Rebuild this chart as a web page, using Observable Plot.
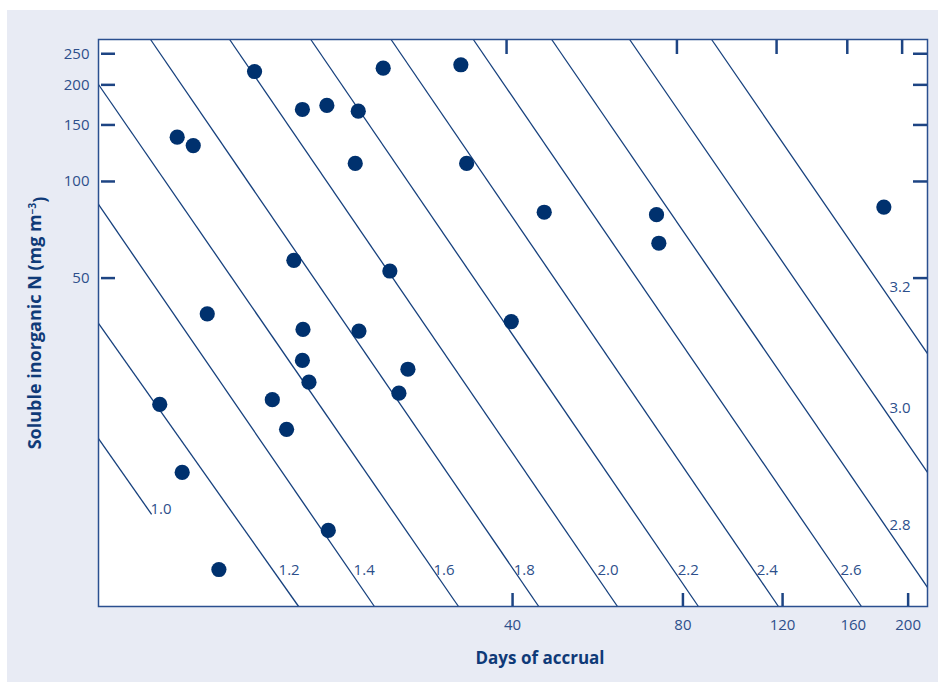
<!DOCTYPE html>
<html><head><meta charset="utf-8">
<script src="https://cdn.jsdelivr.net/npm/d3@7"></script>
<script src="https://cdn.jsdelivr.net/npm/@observablehq/plot@0.6"></script>
<style>
html,body{margin:0;padding:0;background:#fff;}
#wrap{position:relative;width:938px;height:682px;overflow:hidden;}
#panel{position:absolute;left:7px;top:10px;right:0;bottom:0;background:#e8ebf4;}
#chart{position:absolute;left:0;top:0;}
</style></head><body>
<div id="wrap"><div id="panel"></div><div id="chart"></div></div>
<script>
// Observations: days of accrual vs soluble inorganic N (mg m-3)
const days = [14.0, 10.22, 10.91, 17.01, 18.79, 21.35, 23.63, 32.41, 21.09, 33.18,
  45.5, 71.85, 72.53, 181.2, 16.43, 24.28, 11.55, 17.05, 21.41, 39.79,
  17.01, 17.47, 26.13, 25.19, 15.05, 9.52, 15.95, 10.43, 18.9, 12.11];
const nitrogen = [220.1, 137.4, 129.4, 167.6, 172.5, 165.6, 225.4, 231.0, 113.8, 113.8,
  80.2, 78.8, 64.2, 83.2, 56.8, 52.6, 38.7, 34.6, 34.2, 36.6,
  27.7, 23.7, 26.0, 21.9, 20.9, 20.2, 16.9, 12.4, 8.18, 6.18];

// Isolines (labelled values) with their end points in data units
const isoLabels = ["1.0", "1.2", "1.4", "1.6", "1.8", "2.0", "2.2", "2.4", "2.6", "2.8", "3.0", "3.2"];
const isoStartDays = [7.42, 7.42, 7.42, 7.42, 9.17, 12.65, 17.6, 24.4, 34.1, 46.9, 64.4, 89.9];
const isoStartN = [15.8, 36.1, 84.8, 200.5, 276.9, 276.9, 276.9, 276.9, 276.9, 276.9, 276.9, 276.9];
const isoEndDays = [9.21, 16.75, 22.8, 32.1, 44.5, 61.3, 85.2, 118, 165.4, 216.4, 216.4, 216.4];
const isoEndN = [9.18, 4.74, 4.74, 4.74, 4.74, 4.74, 4.74, 4.74, 4.74, 5.44, 12.4, 29.1];
const isoLabelDays = [9.17, 15.44, 20.95, 29.0, 40.2, 56.5, 78.3, 108.0, 151.9, 185.4, 185.4, 185.4];
const isoLabelN = [9.51, 6.14, 6.14, 6.14, 6.14, 6.14, 6.14, 6.14, 6.14, 8.48, 19.6, 46.8];

const xDomain = [7.42, 216.4];
const yDomain = [4.74, 276.9];
const xLabelTicks = [40, 80, 120, 160, 200];
const xBottomTicks = [40, 80, 120, 200];
const xTopTicks = [40, 80, 120, 160, 200];
const yTicks = [50, 100, 150, 200, 250];
const xTitle = "Days of accrual";
const yTitleMain = "Soluble inorganic N (mg m";
const yTitleSup = "\u22123";
const yTitleEnd = ")";

const navy = "#00316e";
const lineColor = "#16407d";
const tickColor = "#1d4483";
const labelColor = "#2d4f8b";
const titleColor = "#0f3a78";

const isoIdx = isoLabels.map((_, i) => i);
const ptIdx = days.map((_, i) => i);

const chart = Plot.plot({
  width: 938, height: 682,
  marginLeft: 98, marginRight: 11, marginTop: 39, marginBottom: 76,
  style: {background: "transparent", fontFamily: "'Open Sans', 'Noto Sans', sans-serif", fontSize: "15px"},
  x: {type: "log", domain: xDomain, axis: null},
  y: {type: "log", domain: yDomain, axis: null},
  marks: [
    Plot.frame({fill: "white", stroke: null}),
    Plot.link(isoIdx, {x1: i => isoStartDays[i], y1: i => isoStartN[i], x2: i => isoEndDays[i], y2: i => isoEndN[i], stroke: lineColor, strokeWidth: 1.3}),
    Plot.text(isoIdx, {x: i => isoLabelDays[i], y: i => isoLabelN[i], text: i => isoLabels[i], textAnchor: "start", fill: labelColor, fontSize: 15}),
    Plot.dot(ptIdx, {x: i => days[i], y: i => nitrogen[i], r: 7.6, fill: navy}),
    Plot.frame({stroke: "#2a4f8f", strokeWidth: 1.5}),
    Plot.axisY(yTicks, {anchor: "left", tickSize: 14, dx: 17, fill: "none", stroke: tickColor, strokeWidth: 2.5, label: null}),
    Plot.axisY(yTicks, {anchor: "right", tickSize: 14, dx: -15, fill: "none", stroke: tickColor, strokeWidth: 2.5, label: null}),
    Plot.axisX(xBottomTicks, {anchor: "bottom", tickSize: 13, dy: -13, fill: "none", stroke: tickColor, strokeWidth: 2.5, label: null}),
    Plot.axisX(xTopTicks, {anchor: "top", tickSize: 14, dy: 14, dx: -6, fill: "none", stroke: tickColor, strokeWidth: 2.5, label: null}),
    Plot.text(yTicks, {y: d => d, frameAnchor: "left", dx: -9, textAnchor: "end", text: d => String(d), fill: labelColor, fontSize: 15}),
    Plot.text(xLabelTicks, {x: d => d, frameAnchor: "bottom", dy: 23, text: d => String(d), fill: labelColor, fontSize: 15}),
    Plot.text([yTitleMain], {frameAnchor: "left", text: d => d, rotate: -90, textAnchor: "middle", dx: -63, dy: 0, fontWeight: "bold", fontSize: 18, fill: titleColor, className: "ytitle"}),
    Plot.text([xTitle], {frameAnchor: "bottom", text: d => d, textAnchor: "middle", dx: 27, dy: 57, fontWeight: "bold", fontSize: 17, fill: titleColor})
  ]
});
// add the superscript unit to the y title as real text
d3.select(chart).selectAll(".ytitle text").each(function() {
  const t = d3.select(this);
  t.append("tspan").attr("dy", "-0.55em").attr("font-size", "10px").text(yTitleSup);
  t.append("tspan").attr("dy", "0.55em").text(yTitleEnd);
});
document.getElementById("chart").appendChild(chart);
</script>
</body></html>
